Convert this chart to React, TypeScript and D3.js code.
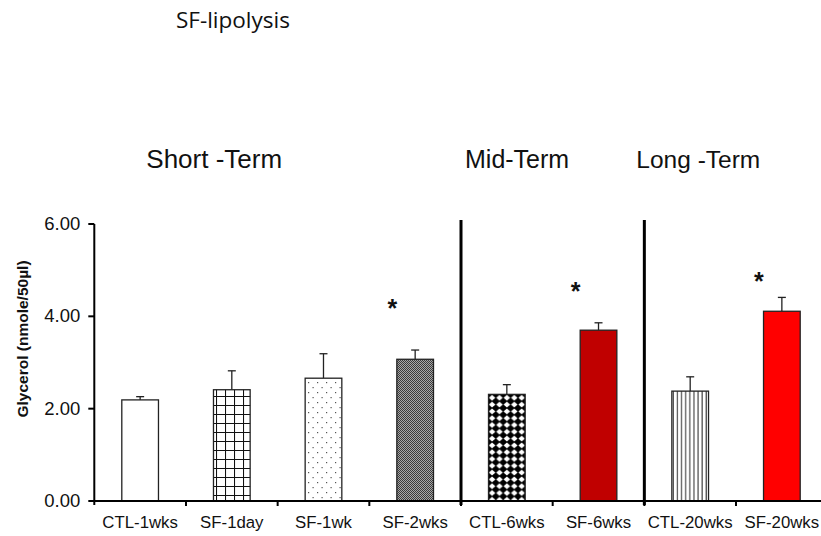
import React from "react";
import * as d3 from "d3";

// Glycerol release per group
const categories = [
  "CTL-1wks",
  "SF-1day",
  "SF-1wk",
  "SF-2wks",
  "CTL-6wks",
  "SF-6wks",
  "CTL-20wks",
  "SF-20wks",
];
const means = [2.19, 2.41, 2.66, 3.07, 2.31, 3.7, 2.38, 4.11];
const errors = [0.07, 0.41, 0.53, 0.2, 0.21, 0.16, 0.31, 0.3];
const fills = [
  "#ffffff",
  "url(#grid)",
  "url(#dots)",
  "url(#checker)",
  "url(#diamonds)",
  "#c00000",
  "url(#vlines)",
  "#ff0000",
];
const yTicks = [0, 2, 4, 6];

// Significance markers: category and height (data units) of the asterisk centre
const starCats = ["SF-2wks", "SF-6wks", "SF-20wks"];
const starLevels = [4.29, 4.66, 4.87];

// Phase headings and the categories they sit over
const phaseLabels = ["Short -Term", "Mid-Term", "Long -Term"];
const phaseStarts = ["CTL-1wks", "CTL-6wks", "CTL-20wks"];
// Separators are drawn before these categories
const dividerBefore = ["CTL-6wks", "CTL-20wks"];

const W = 821;
const H = 536;
const FONT = "'Liberation Sans', Arial, Helvetica, sans-serif";

export default function App() {
  const x = d3
    .scaleBand<string>()
    .domain(categories)
    .range([94.3, 827.7])
    .padding(0);
  const y = d3.scaleLinear().domain([0, 6]).range([501, 224]);
  const step = x.step();
  const barW = step * 0.4;
  const x0 = x.range()[0];
  const y0 = y(0);

  const boundaries = categories.slice(1).map((c) => x(c) as number);
  const headingOffsets = [52, 4, -8];
  const headingSizes = [26, 25, 24.5];

  return (
    <svg
      width={W}
      height={H}
      viewBox={`0 0 ${W} ${H}`}
      style={{ position: "absolute", left: 0, top: 0, background: "#fff" }}
    >
      <defs>
        <pattern id="grid" patternUnits="userSpaceOnUse" width={9} height={9}>
          <rect width={9} height={9} fill="#fff" />
          <path d="M0 0.5H9M0.5 0V9" stroke="#111" strokeWidth={1.1} />
        </pattern>
        <pattern id="dots" patternUnits="userSpaceOnUse" width={9} height={10}>
          <rect width={9} height={10} fill="#fff" />
          <rect x={2} y={2} width={1.2} height={1.2} fill="#555" />
          <rect x={6.5} y={7} width={1.2} height={1.2} fill="#555" />
        </pattern>
        <pattern id="checker" patternUnits="userSpaceOnUse" width={2} height={2}>
          <rect width={2} height={2} fill="#a8a8a8" />
          <rect width={1} height={1} fill="#3a3a3a" />
          <rect x={1} y={1} width={1} height={1} fill="#3a3a3a" />
        </pattern>
        <pattern id="diamonds" patternUnits="userSpaceOnUse" width={7.4} height={6.8}>
          <rect width={7.4} height={6.8} fill="#000" />
          <polygon points="3.7,0.4 7.0,3.4 3.7,6.4 0.4,3.4" fill="#fff" />
        </pattern>
        <pattern id="vlines" patternUnits="userSpaceOnUse" width={4.1} height={4}>
          <rect width={4.1} height={4} fill="#fff" />
          <path d="M1 0V4" stroke="#222" strokeWidth={1} />
        </pattern>
      </defs>

      {/* Title */}
      <text x={176} y={28} fontFamily="'Open Sans', sans-serif" fontSize={22.5} fill="#111">
        SF-lipolysis
      </text>

      {/* Phase headings */}
      {phaseLabels.map((lab, i) => (
        <text
          key={lab}
          x={(x(phaseStarts[i]) as number) + headingOffsets[i]}
          y={168}
          fontFamily={FONT}
          fontSize={headingSizes[i]}
          fill="#111"
        >
          {lab}
        </text>
      ))}

      {/* Bars */}
      {categories.map((c, i) => {
        const cx = (x(c) as number) + step / 2;
        return (
          <g key={c}>
            <line
              x1={cx}
              x2={cx}
              y1={y(means[i])}
              y2={y(means[i] + errors[i])}
              stroke="#222"
              strokeWidth={1.3}
            />
            <line
              x1={cx - 4}
              x2={cx + 4}
              y1={y(means[i] + errors[i])}
              y2={y(means[i] + errors[i])}
              stroke="#222"
              strokeWidth={1.3}
            />
            <rect
              x={cx - barW / 2}
              y={y(means[i])}
              width={barW}
              height={y0 - y(means[i])}
              fill={fills[i]}
              stroke="#222"
              strokeWidth={1.3}
            />
          </g>
        );
      })}

      {/* Asterisks */}
      {starCats.map((c, i) => (
        <text
          key={c}
          x={(x(c) as number) + step * 0.25}
          y={y(starLevels[i]) + 14}
          textAnchor="middle"
          fontFamily={FONT}
          fontSize={25}
          fontWeight="bold"
          fill="#111"
        >
          *
        </text>
      ))}

      {/* Phase separators */}
      {dividerBefore.map((c) => (
        <line
          key={c}
          x1={x(c) as number}
          x2={x(c) as number}
          y1={220}
          y2={y0 + 4}
          stroke="#000"
          strokeWidth={3}
        />
      ))}

      {/* Y axis */}
      <line x1={x0} x2={x0} y1={y(6)} y2={y0 + 4} stroke="#000" strokeWidth={2} />
      {yTicks.map((t) => (
        <g key={t}>
          <line x1={x0 - 6} x2={x0} y1={y(t)} y2={y(t)} stroke="#000" strokeWidth={2} />
          <text
            x={x0 - 14}
            y={y(t) + 6}
            textAnchor="end"
            fontFamily={FONT}
            fontSize={18.5}
            fill="#111"
          >
            {d3.format(".2f")(t)}
          </text>
        </g>
      ))}
      <text
        transform={`translate(28, 339) rotate(-90)`}
        textAnchor="middle"
        fontFamily={FONT}
        fontSize={15.5}
        fontWeight="bold"
        fill="#111"
      >
        Glycerol (nmole/50µl)
      </text>

      {/* X axis */}
      <line x1={x0 - 2} x2={827.7} y1={y0} y2={y0} stroke="#000" strokeWidth={2} />
      {boundaries.map((b, i) => (
        <line key={i} x1={b} x2={b} y1={y0} y2={y0 + 5} stroke="#000" strokeWidth={2} />
      ))}
      {categories.map((c) => (
        <text
          key={c}
          x={(x(c) as number) + step / 2}
          y={528}
          textAnchor="middle"
          fontFamily={FONT}
          fontSize={16.8}
          fill="#111"
        >
          {c}
        </text>
      ))}
    </svg>
  );
}
